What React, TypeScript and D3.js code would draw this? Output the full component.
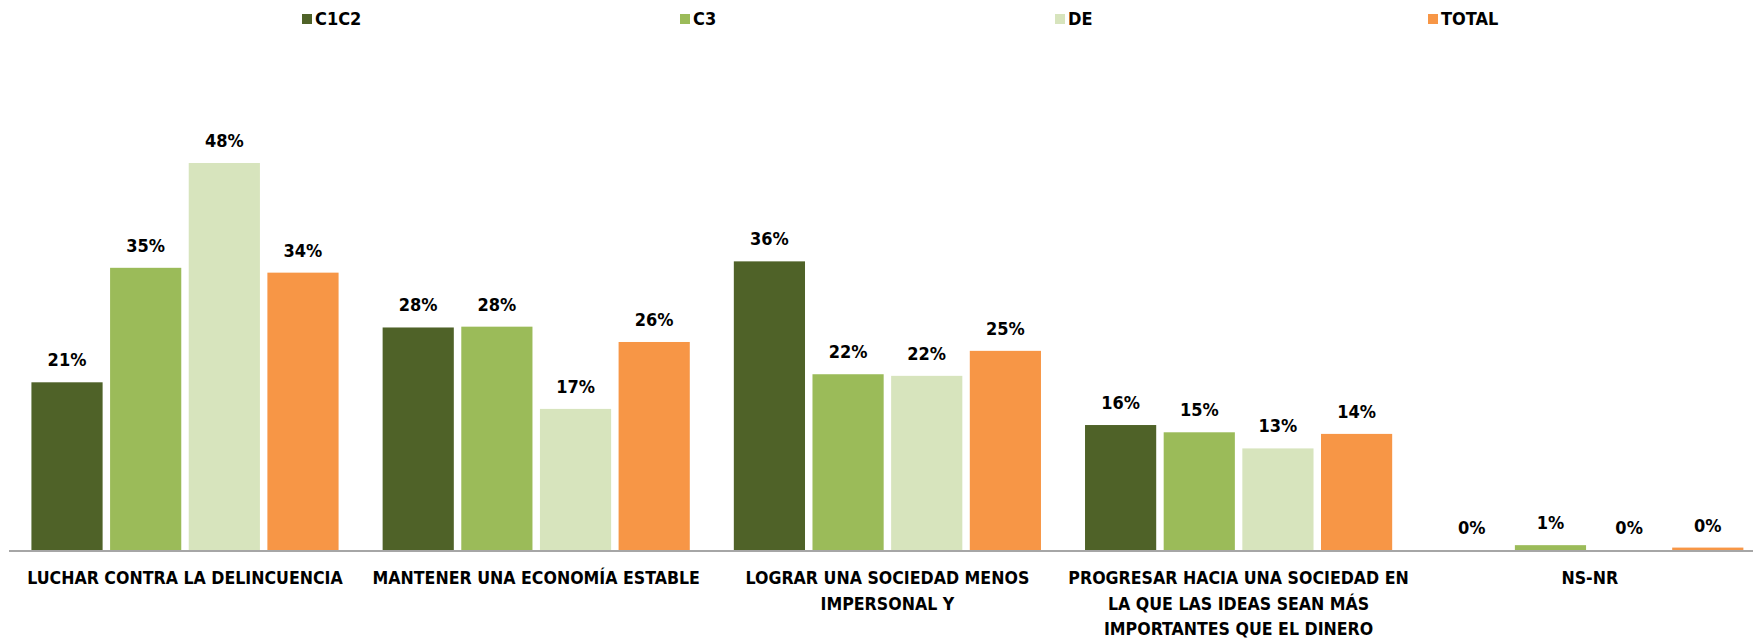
import React from "react";
import * as d3 from "d3";

const categories = [
  "LUCHAR CONTRA LA DELINCUENCIA",
  "MANTENER UNA ECONOMÍA ESTABLE",
  "LOGRAR UNA SOCIEDAD MENOS\nIMPERSONAL Y",
  "PROGRESAR HACIA UNA SOCIEDAD EN\nLA QUE LAS IDEAS SEAN MÁS\nIMPORTANTES QUE EL DINERO",
  "NS-NR",
];
const seriesNames = ["C1C2", "C3", "DE", "TOTAL"];
const c1c2 = [20.8, 27.6, 35.8, 15.5, 0];
const c3 = [35.0, 27.7, 21.8, 14.6, 0.6];
const de = [48.0, 17.5, 21.6, 12.6, 0];
const total = [34.4, 25.8, 24.7, 14.4, 0.3];
const labelC1C2 = ["21%", "28%", "36%", "16%", "0%"];
const labelC3 = ["35%", "28%", "22%", "15%", "1%"];
const labelDE = ["48%", "17%", "22%", "13%", "0%"];
const labelTotal = ["34%", "26%", "25%", "14%", "0%"];
const colors = ["#4F6228", "#9BBB59", "#D7E4BD", "#F79646"];

const W = 1753;
const H = 638;
const FONT = "'Liberation Sans Narrow', 'DejaVu Sans Condensed', Arial, sans-serif";

export default function App() {
  const values = [c1c2, c3, de, total];
  const labels = [labelC1C2, labelC3, labelDE, labelTotal];
  const baseY = 550;
  const x0 = d3.scaleBand<number>().domain(d3.range(categories.length)).range([9.4, 9.4 + 5 * 351.2]).paddingInner(0).paddingOuter(0);
  const x1 = d3.scaleBand<number>().domain(d3.range(seriesNames.length)).range([0, x0.bandwidth()]).paddingInner(0.095).paddingOuter(0.28);
  const y = d3.scaleLinear().domain([0, 48]).range([baseY, 163]);
  const legendX = [302, 680, 1055, 1428];

  return (
    <svg width={W} height={H} style={{ display: "block", position: "absolute", left: 0, top: 0, background: "#fff" }} fontFamily={FONT} fontWeight="bold">
      {legendX.map((lx, i) => (
        <g key={i}>
          <rect x={lx} y={14} width={10} height={10} fill={colors[i]} />
          <text x={lx + 13} y={24.5} fontSize={18} fill="#000">{seriesNames[i]}</text>
        </g>
      ))}
      {categories.map((c, ci) => (
        <g key={ci} transform={`translate(${x0(ci)},0)`}>
          {values.map((vals, si) => {
            const v = vals[ci];
            const bx = x1(si)!;
            const bw = x1.bandwidth();
            const top = y(v);
            return (
              <g key={si}>
                {v > 0 && <rect x={bx} y={top} width={bw} height={baseY - top} fill={colors[si]} />}
                <text x={bx + bw / 2} y={top - 16} textAnchor="middle" fontSize={18} fill="#000">{labels[si][ci]}</text>
              </g>
            );
          })}
          {c.split("\n").map((line, li) => (
            <text key={li} x={x0.bandwidth() / 2} y={584 + li * 25.5} textAnchor="middle" fontSize={17.6} fill="#000">{line}</text>
          ))}
        </g>
      ))}
      <line x1={9} x2={W} y1={baseY + 1} y2={baseY + 1} stroke="#A6A6A6" strokeWidth={2} />
    </svg>
  );
}
